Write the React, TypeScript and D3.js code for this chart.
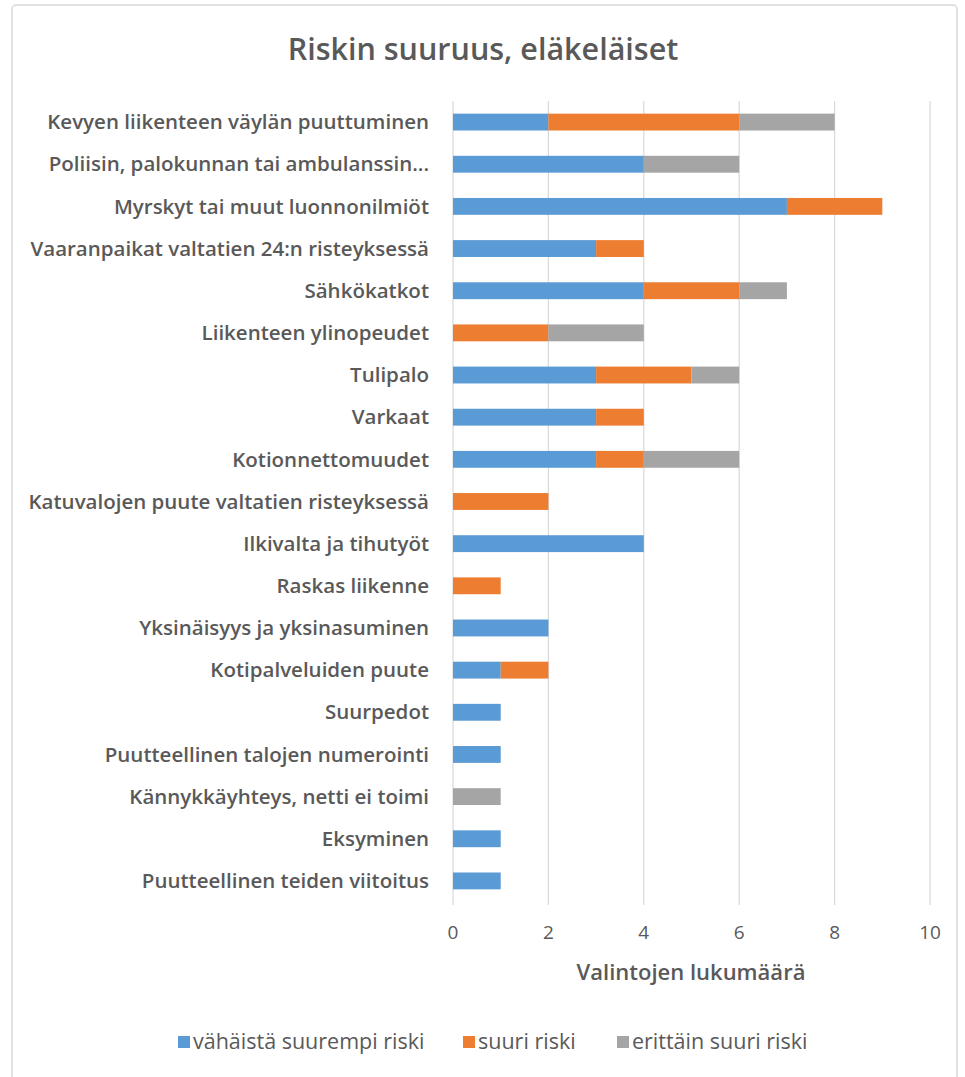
import React from "react";
import * as d3 from "d3";

const categories = [
  "Kevyen liikenteen väylän puuttuminen",
  "Poliisin, palokunnan tai ambulanssin...",
  "Myrskyt tai muut luonnonilmiöt",
  "Vaaranpaikat valtatien 24:n risteyksessä",
  "Sähkökatkot",
  "Liikenteen ylinopeudet",
  "Tulipalo",
  "Varkaat",
  "Kotionnettomuudet",
  "Katuvalojen puute valtatien risteyksessä",
  "Ilkivalta ja tihutyöt",
  "Raskas liikenne",
  "Yksinäisyys ja yksinasuminen",
  "Kotipalveluiden puute",
  "Suurpedot",
  "Puutteellinen talojen numerointi",
  "Kännykkäyhteys, netti ei toimi",
  "Eksyminen",
  "Puutteellinen teiden viitoitus",
];

const vahaista = [2, 4, 7, 3, 4, 0, 3, 3, 3, 0, 4, 0, 2, 1, 1, 1, 0, 1, 1];
const suuri = [4, 0, 2, 1, 2, 2, 2, 1, 1, 2, 0, 1, 0, 1, 0, 0, 0, 0, 0];
const erittain = [2, 2, 0, 0, 1, 2, 1, 0, 2, 0, 0, 0, 0, 0, 0, 0, 1, 0, 0];

const seriesNames = ["vähäistä suurempi riski", "suuri riski", "erittäin suuri riski"];
const seriesColors = ["#5B9BD5", "#ED7D31", "#A5A5A5"];
const xTicks = [0, 2, 4, 6, 8, 10];

const title = "Riskin suuruus, eläkeläiset";
const xTitle = "Valintojen lukumäärä";

export default function App() {
  const W = 965;
  const H = 1077;
  const x = d3.scaleLinear().domain([0, 10]).range([453, 930]);
  const y = d3
    .scaleBand<string>()
    .domain(categories)
    .range([101, 902])
    .paddingInner(0.6)
    .paddingOuter(0.3);

  const rows = categories.map((c, i) => ({
    cat: c,
    v0: vahaista[i],
    v1: suuri[i],
    v2: erittain[i],
  }));
  const stack = d3.stack<any>().keys(["v0", "v1", "v2"]);
  const stacked = stack(rows);

  const textColor = "#595959";
  const font = "'Open Sans', sans-serif";

  const legendItems = [
    { x: 178, label: seriesNames[0], color: seriesColors[0] },
    { x: 463, label: seriesNames[1], color: seriesColors[1] },
    { x: 617, label: seriesNames[2], color: seriesColors[2] },
  ];

  return (
    <div style={{ position: "absolute", left: 0, top: 0 }}>
      <svg width={W} height={H} style={{ display: "block", background: "#fff" }}>
        <rect x={12} y={5} width={945} height={1080} rx={4} fill="#fff" stroke="#D9D9D9" strokeWidth={1.5} />
        <text
          x={483}
          y={60}
          textAnchor="middle"
          fontFamily={font}
          fontWeight={600}
          fontSize={30.5}
          fill={textColor}
        >
          {title}
        </text>
        {xTicks.map((t) => (
          <line key={"g" + t} x1={x(t)} x2={x(t)} y1={101} y2={905} stroke="#D9D9D9" strokeWidth={1.2} />
        ))}
        {stacked.map((s, si) =>
          s.map((d, i) => {
            const w = x(d[1]) - x(d[0]);
            if (w <= 0) return null;
            return (
              <rect
                key={si + "-" + i}
                x={x(d[0])}
                y={y(categories[i])}
                width={w}
                height={y.bandwidth()}
                fill={seriesColors[si]}
              />
            );
          })
        )}
        {categories.map((c) => (
          <text
            key={c}
            x={429}
            y={(y(c) as number) + y.bandwidth() / 2}
            dy="0.35em"
            textAnchor="end"
            fontFamily={font}
            fontWeight={600}
            fontSize={20.5}
            fill={textColor}
          >
            {c}
          </text>
        ))}
        {xTicks.map((t) => (
          <text
            key={"t" + t}
            x={x(t)}
            y={939}
            textAnchor="middle"
            fontFamily={font}
            fontSize={19}
            fill={textColor}
          >
            {t}
          </text>
        ))}
        <text
          x={691}
          y={980}
          textAnchor="middle"
          fontFamily={font}
          fontWeight={600}
          fontSize={22}
          fill={textColor}
        >
          {xTitle}
        </text>
        {legendItems.map((l) => (
          <g key={l.label}>
            <rect x={l.x} y={1036} width={12} height={12} fill={l.color} />
            <text x={l.x + 15} y={1049} fontFamily={font} fontSize={21.5} fill={textColor}>
              {l.label}
            </text>
          </g>
        ))}
      </svg>
    </div>
  );
}
